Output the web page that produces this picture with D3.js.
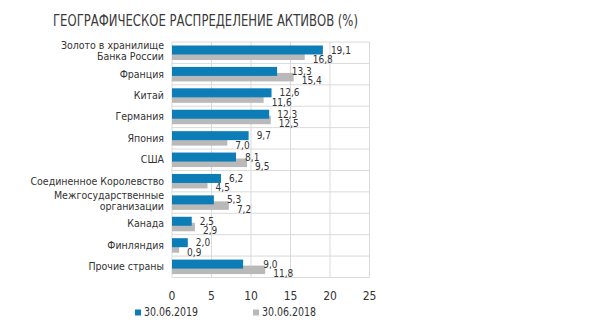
<!DOCTYPE html>
<html><head><meta charset="utf-8">
<script src="https://cdn.jsdelivr.net/npm/d3@7"></script>
<style>
body{margin:0;background:#fff;}
text{font-family:"DejaVu Sans Condensed","Liberation Sans Narrow","Roboto",sans-serif;fill:#333;}
</style></head>
<body><svg id="c" width="604" height="324"></svg>
<script>
const title = "ГЕОГРАФИЧЕСКОЕ РАСПРЕДЕЛЕНИЕ АКТИВОВ (%)";
const categories = [
  ["Золото в хранилище","Банка России"],
  ["Франция"],
  ["Китай"],
  ["Германия"],
  ["Япония"],
  ["США"],
  ["Соединенное Королевство"],
  ["Межгосударственные","организации"],
  ["Канада"],
  ["Финляндия"],
  ["Прочие страны"]
];
const values2019 = [19.1, 13.3, 12.6, 12.3, 9.7, 8.1, 6.2, 5.3, 2.5, 2.0, 9.0];
const values2018 = [16.8, 15.4, 11.6, 12.5, 7.0, 9.5, 4.5, 7.2, 2.9, 0.9, 11.8];
const xTicks = [0, 5, 10, 15, 20, 25];
const seriesNames = ["30.06.2019", "30.06.2018"];
const colors = ["#0d7db7", "#b9b9b9"];

const svg = d3.select("#c");
const x = d3.scaleLinear().domain([0, 25]).range([172, 369.5]);
const ids = categories.map((c, i) => i);
const y = d3.scaleBand().domain(ids).range([42, 277.5]).padding(0);
const bw = y.bandwidth();
const fmt = v => d3.format(".1f")(v).replace(".", ",");

svg.append("text").attr("x", 53).attr("y", 26).attr("font-size", 15)
  .attr("textLength", 305).attr("lengthAdjust", "spacingAndGlyphs")
  .style("fill", "#3a3a3a").text(title);

// grid
const g = svg.append("g");
g.selectAll("line.v").data(xTicks).join("line")
  .attr("x1", d => x(d)).attr("x2", d => x(d)).attr("y1", 42).attr("y2", 277.5)
  .attr("stroke", "#dadada").attr("stroke-width", 1);
g.selectAll("line.h").data(ids.concat([ids.length])).join("line")
  .attr("x1", x(0)).attr("x2", x(25))
  .attr("y1", d => d < ids.length ? y(d) : y(ids.length - 1) + bw)
  .attr("y2", d => d < ids.length ? y(d) : y(ids.length - 1) + bw)
  .attr("stroke", "#dadada").attr("stroke-width", 1);

// bars
svg.selectAll("rect.b18").data(values2018).join("rect")
  .attr("x", x(0)).attr("y", (d, i) => y(i) + 9.5)
  .attr("width", d => x(d) - x(0)).attr("height", 8.5).attr("fill", colors[1]);
svg.selectAll("rect.b19").data(values2019).join("rect")
  .attr("x", x(0)).attr("y", (d, i) => y(i) + 3.5)
  .attr("width", d => x(d) - x(0)).attr("height", 9).attr("fill", colors[0]);

// value labels
svg.selectAll("text.v19").data(values2019).join("text")
  .attr("x", (d, i) => values2018[i] > d + 0.5 ? x(values2018[i]) - 2 : x(d) + 8)
  .attr("y", (d, i) => y(i) + 11.5).attr("font-size", 10).text(fmt);
svg.selectAll("text.v18").data(values2018).join("text")
  .attr("x", d => x(d) + 8)
  .attr("y", (d, i) => y(i) + 21).attr("font-size", 10).text(fmt);

// category labels
categories.forEach((lines, i) => {
  const c = y(i) + bw / 2;
  const t = svg.append("text").attr("text-anchor", "end").attr("font-size", 10.5);
  if (lines.length === 1) {
    t.append("tspan").attr("x", 164).attr("y", c + 3.5).text(lines[0]);
  } else {
    t.append("tspan").attr("x", 164).attr("y", c - 3.6).text(lines[0]);
    t.append("tspan").attr("x", 164).attr("y", c + 7.4).text(lines[1]);
  }
});

// x axis labels
svg.selectAll("text.t").data(xTicks).join("text")
  .attr("x", d => x(d)).attr("y", 300).attr("text-anchor", "middle")
  .attr("font-size", 12).text(d => d);

// legend
const leg = svg.append("g");
[[135, 144], [253, 262]].forEach((p, i) => {
  leg.append("rect").attr("x", p[0]).attr("y", 309.5).attr("width", 6).attr("height", 6).attr("fill", colors[i]);
  leg.append("text").attr("x", p[1]).attr("y", 316).attr("font-size", 12)
    .attr("textLength", 54).attr("lengthAdjust", "spacingAndGlyphs").text(seriesNames[i]);
});
</script></body></html>
